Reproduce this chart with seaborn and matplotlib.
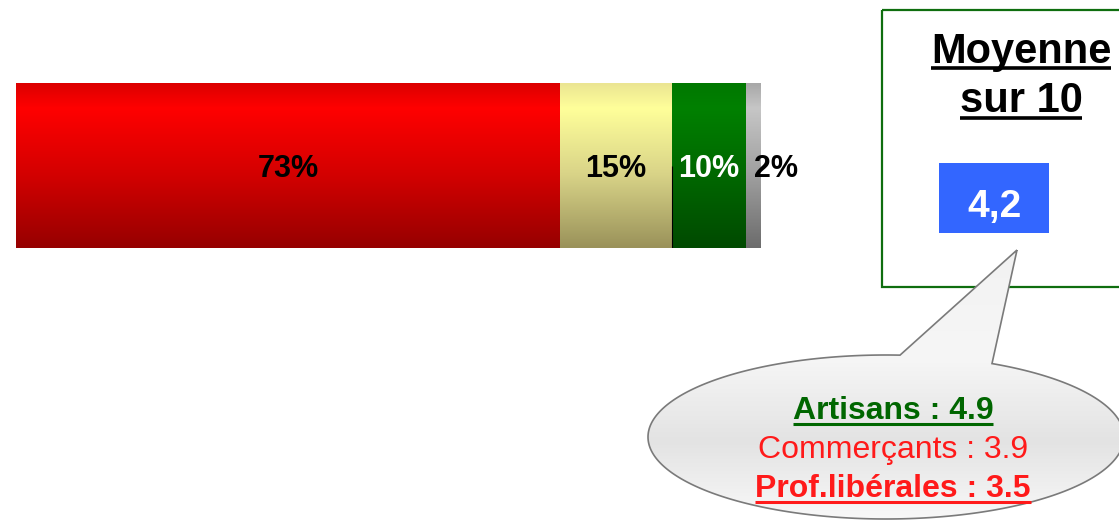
import numpy as np
import pandas as pd
import seaborn as sns
import matplotlib.pyplot as plt
from matplotlib.colors import LinearSegmentedColormap
from matplotlib.patches import Rectangle, PathPatch
from matplotlib.path import Path

# data
segments = ["Pas satisfait", "Moyen", "Satisfait", "NSP"]
shares = [73, 15, 10, 2]
mean_title = ["Moyenne", "sur 10"]
mean_value = "4,2"
group_names = ["Artisans", "Commerçants", "Prof.libérales"]
group_means = [4.9, 3.9, 3.5]

# styles
seg_gradients = [
    ["#dc0000", "#ff0000", "#d40000", "#960000"],
    ["#ebe592", "#ffff9a", "#d9d488", "#9a925a"],
    ["#007800", "#008000", "#006800", "#004a00"],
    ["#a8a8a8", "#c6c6c6", "#a0a0a0", "#6c6c6c"],
]
label_colors = ["black", "black", "white", "black"]
group_colors = ["#006600", "#ff1a1a", "#ff1a1a"]
group_weights = ["bold", "normal", "bold"]
group_underline = [True, False, True]

sns.set_theme(style="white")
plt.rcParams["font.family"] = ["Liberation Sans", "DejaVu Sans"]

W, H = 1119, 520
fig = plt.figure(figsize=(W / 100, H / 100), dpi=100)

# ---- stacked bar ----
ax = fig.add_axes([16 / W, (H - 248) / H, 745 / W, 165 / H])
df = pd.DataFrame({"segment": segments, "share": shares})
df["cum"] = df["share"].cumsum()
df["left"] = df["cum"] - df["share"]

# classic overlay trick: largest cumulative first
for i in reversed(range(len(df))):
    sns.barplot(x=[df["cum"][i]], y=["bar"], orient="h", width=1,
                color=seg_gradients[i][1], linewidth=0, ax=ax)
ax.set_xlim(0, df["cum"].iloc[-1])
ax.set_ylim(0.5, -0.5)

grad = np.linspace(0, 1, 200).reshape(-1, 1)
for i, row in df.iterrows():
    cmap = LinearSegmentedColormap.from_list(
        f"g{i}", list(zip([0, 0.15, 0.55, 1], seg_gradients[i])))
    ax.imshow(grad, cmap=cmap, aspect="auto", origin="upper",
              extent=(row["left"], row["cum"], 0.5, -0.5), zorder=3)
    last = i == len(df) - 1
    ax.text(row["left"] + row["share"] / 2, 0.02, f"{row['share']}%",
            ha="left" if last else "center", va="center", fontsize=22,
            fontweight="bold", color=label_colors[i], zorder=5, clip_on=False)
ax.vlines(df["cum"][1], 0, 0.5, color="black", lw=0.8, zorder=4)
ax.set_xlim(0, df["cum"].iloc[-1])
ax.set_ylim(0.5, -0.5)
ax.axis("off")

# ---- overlay in pixel coordinates ----
ov = fig.add_axes([0, 0, 1, 1], zorder=10)
ov.set_xlim(0, W)
ov.set_ylim(H, 0)
ov.axis("off")
ov.patch.set_alpha(0)

ov.add_patch(Rectangle((882, 10), 260, 277, fill=False, edgecolor="#0f6e0f",
                       lw=1.6, clip_on=False))
ov.add_patch(Rectangle((939, 163), 110, 70, facecolor="#3366ff", edgecolor="none"))

underlines = []
t1 = ov.text(1021, 63, mean_title[0], ha="center", va="baseline",
             fontsize=30, fontweight="bold", color="black")
t2 = ov.text(1021, 112, mean_title[1], ha="center", va="baseline",
             fontsize=30, fontweight="bold", color="black")
underlines += [(t1, 68, "black", 2.6), (t2, 118, "black", 2.6)]
ov.text(994, 217, mean_value, ha="center", va="baseline",
        fontsize=28, fontweight="bold", color="white")

# speech bubble
cx, cy, a, b = 886, 437, 238, 82
tip = (1017, 250)
t_start = np.arccos((900 - cx) / a)
t_end = 2 * np.pi + np.arccos((992 - cx) / a)
ts = np.linspace(t_start, t_end, 300)
pts = [tip] + list(zip(cx + a * np.cos(ts), cy - b * np.sin(ts))) + [tip]
bubble = Path(pts, closed=True)
bpatch = PathPatch(bubble, facecolor="none", edgecolor="#7a7a7a", lw=1.2, zorder=2)
bcmap = LinearSegmentedColormap.from_list(
    "bub", list(zip([0, 0.4, 0.71, 1], ["#f2f2f2", "#f6f6f6", "#e3e3e3", "#f8f8f8"])))
im = ov.imshow(np.linspace(0, 1, 200).reshape(-1, 1), cmap=bcmap, aspect="auto",
               origin="upper", extent=(640, W, 520, 250), zorder=1)
ov.add_patch(bpatch)
im.set_clip_path(bpatch)
ov.set_xlim(0, W)
ov.set_ylim(H, 0)

baselines = [419, 458, 497]
for name, val, col, wt, ul, yb in zip(group_names, group_means, group_colors,
                                      group_weights, group_underline, baselines):
    t = ov.text(893, yb, f"{name} : {val}", ha="center", va="baseline",
                fontsize=23, fontweight=wt, color=col, zorder=3)
    if ul:
        underlines.append((t, yb + 4.5, col, 2.2))

fig.canvas.draw()
renderer = fig.canvas.get_renderer()
inv = ov.transData.inverted()
for t, yl, col, lw in underlines:
    bb = t.get_window_extent(renderer)
    x0 = inv.transform((bb.x0, bb.y0))[0]
    x1 = inv.transform((bb.x1, bb.y0))[0]
    ov.plot([x0, x1], [yl, yl], color=col, lw=lw, solid_capstyle="butt", zorder=3)

fig.savefig("out.png", dpi=100)
